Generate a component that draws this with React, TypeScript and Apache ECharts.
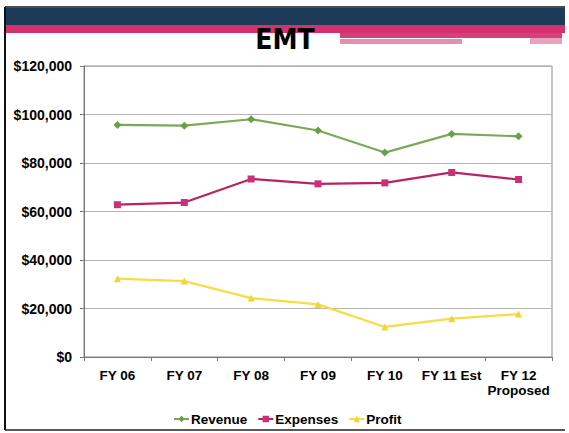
import React, { useEffect, useRef } from "react";
import * as echarts from "echarts";

const categories = ["FY 06", "FY 07", "FY 08", "FY 09", "FY 10", "FY 11 Est", "FY 12\nProposed"];
const revenue = [95700, 95400, 98050, 93400, 84300, 92000, 91000];
const expenses = [62800, 63700, 73400, 71400, 71800, 76100, 73200];
const profit = [32300, 31300, 24300, 21700, 12400, 15800, 17700];
const yTicks = { min: 0, max: 120000, interval: 20000 };

const FONT = "'Liberation Sans', Arial, sans-serif";

export default function App() {
  const ref = useRef<HTMLDivElement>(null);
  useEffect(() => {
    if (!ref.current) return;
    const chart = echarts.init(ref.current, undefined, { renderer: "svg" });
    const labelStyle = { color: "#000", fontWeight: "bold" as const, fontFamily: FONT };
    chart.setOption({
      animation: false,
      backgroundColor: "#fff",
      graphic: [
        { type: "rect", shape: { x: 5, y: 8, width: 560, height: 17 }, style: { fill: "#1d3b58" }, z: 0 },
        { type: "rect", shape: { x: 5, y: 25, width: 560, height: 8 }, style: { fill: "#d3326e" }, z: 0 },
        { type: "rect", shape: { x: 340, y: 33, width: 222, height: 5 }, style: { fill: "#d6407a" }, z: 0 },
        { type: "rect", shape: { x: 340, y: 39, width: 122, height: 5 }, style: { fill: "#e58fb0" }, z: 0 },
        { type: "rect", shape: { x: 530, y: 38, width: 32, height: 6 }, style: { fill: "#e8a2bd" }, z: 0 },
        { type: "line", shape: { x1: 342, y1: 38.5, x2: 530, y2: 38.5 }, style: { stroke: "#fff", lineWidth: 1 }, z: 1 },
        { type: "line", shape: { x1: 5, y1: 7, x2: 565, y2: 7 }, style: { stroke: "#111", lineWidth: 1.5 }, z: 2 },
        { type: "line", shape: { x1: 5, y1: 7, x2: 5, y2: 430 }, style: { stroke: "#111", lineWidth: 2 }, z: 2 },
        { type: "line", shape: { x1: 5, y1: 430, x2: 565, y2: 430 }, style: { stroke: "#222", lineWidth: 1.5 }, z: 2 },
        {
          type: "text",
          x: 285,
          y: 53,
          z: 5,
          style: {
            text: "EMT",
            fill: "#000",
            font: "bold 28px 'Liberation Sans Narrow', 'Arial Narrow', 'DejaVu Sans Condensed', sans-serif",
            textAlign: "center",
            textVerticalAlign: "bottom",
          },
        },
      ],
      grid: {
        left: 84,
        right: 17,
        top: 66,
        bottom: 76,
        show: true,
        borderColor: "#8a8a8a",
        borderWidth: 1,
        backgroundColor: "transparent",
      },
      legend: {
        top: 407,
        left: 168,
        itemWidth: 15,
        itemHeight: 8,
        itemGap: 10,
        textStyle: { ...labelStyle, fontSize: 13.5, padding: [0, 0, 0, -3] },
        data: ["Revenue", "Expenses", "Profit"],
      },
      xAxis: {
        type: "category",
        data: categories,
        boundaryGap: true,
        axisLine: { lineStyle: { color: "#777" } },
        axisTick: { show: true, length: 4, lineStyle: { color: "#777" } },
        axisLabel: { ...labelStyle, fontSize: 13.5, margin: 11, lineHeight: 15, interval: 0 },
      },
      yAxis: {
        type: "value",
        min: yTicks.min,
        max: yTicks.max,
        interval: yTicks.interval,
        axisLine: { show: true, lineStyle: { color: "#777" } },
        axisTick: { show: true, length: 4, lineStyle: { color: "#777" } },
        splitLine: { lineStyle: { color: "#b5b5b5" } },
        axisLabel: {
          ...labelStyle,
          fontSize: 14,
          margin: 12,
          formatter: (v: number) => "$" + v.toLocaleString("en-US"),
        },
      },
      series: [
        {
          name: "Revenue",
          type: "line",
          data: revenue,
          color: "#74a750",
          symbol: "diamond",
          symbolSize: 8,
          lineStyle: { width: 2.2, color: "#7aa95a" },
          itemStyle: { color: "#6b9f47" },
        },
        {
          name: "Expenses",
          type: "line",
          data: expenses,
          color: "#bf2768",
          symbol: "rect",
          symbolSize: 7,
          lineStyle: { width: 2.2, color: "#b8245f" },
          itemStyle: { color: "#c8307a" },
        },
        {
          name: "Profit",
          type: "line",
          data: profit,
          color: "#f5da3a",
          symbol: "triangle",
          symbolSize: 7,
          lineStyle: { width: 2.2, color: "#f6dc45" },
          itemStyle: { color: "#f2d630" },
        },
      ],
    });
    return () => chart.dispose();
  }, []);
  return (
    <div
      ref={ref}
      style={{ position: "fixed", left: 0, top: 0, width: 569, height: 433 }}
    />
  );
}
